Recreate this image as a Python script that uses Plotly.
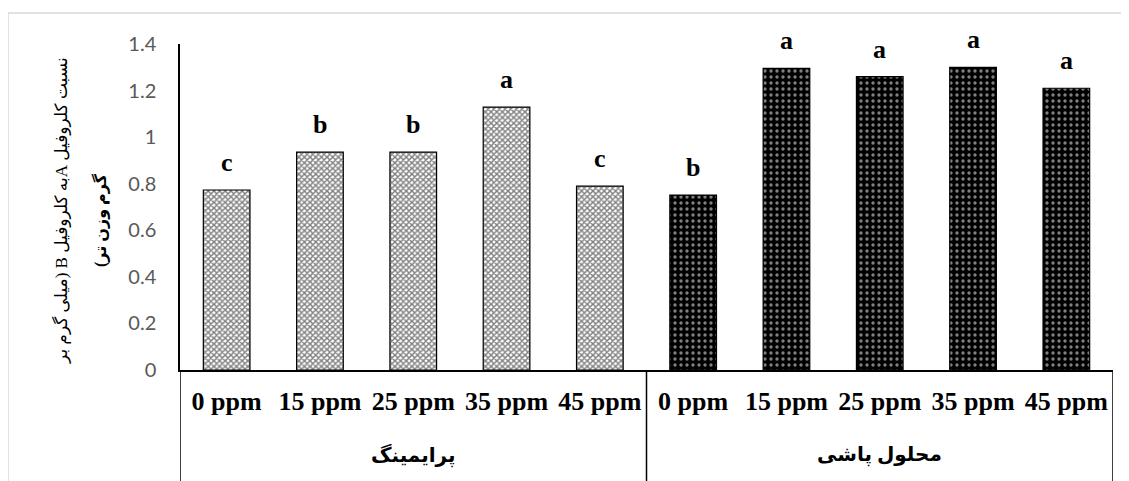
import plotly.graph_objects as go

group_names = ["پرایمینگ", "محلول پاشی"]
doses = ["0 ppm", "15 ppm", "25 ppm", "35 ppm", "45 ppm"]
priming_vals = [0.773, 0.936, 0.936, 1.129, 0.79]
spray_vals = [0.751, 1.295, 1.26, 1.30, 1.21]
priming_letters = ["c", "b", "b", "a", "c"]
spray_letters = ["b", "a", "a", "a", "a"]
y_ticks = [0, 0.2, 0.4, 0.6, 0.8, 1, 1.2, 1.4]
y_title_1 = "نسبت کلروفیل Aبه کلروفیل B (میلی گرم بر"
y_title_2 = "گرم وزن تر)"

# page has an 8px body margin; figure coordinates are page minus 8
OFF = 8
W, H = 1129 - OFF, 481 - OFF
L, T = 180 - OFF, 44 - OFF
R = W - (1113 - OFF)
B = H - (370 - OFF)
PW, PH = W - L - R, H - T - B


def px_x(page_x):
    return (page_x - OFF - L) / PW


def px_y(page_y):
    return (H - B - (page_y - OFF)) / PH


n = len(doses)
x_pri = list(range(n))
x_spr = list(range(n, 2 * n))

fig = go.Figure()
fig.add_trace(go.Bar(
    x=x_pri, y=priming_vals, width=0.5,
    marker=dict(color="white", line=dict(color="black", width=1.2),
                pattern=dict(shape="x", fgcolor="black", bgcolor="white",
                             size=4, solidity=0.6, fillmode="overlay")),
    showlegend=False,
))
fig.add_trace(go.Bar(
    x=x_spr, y=spray_vals, width=0.5,
    marker=dict(color="black", line=dict(color="black", width=1.2),
                pattern=dict(shape=".", fgcolor="white", bgcolor="black",
                             size=6, solidity=0.25, fillmode="overlay")),
    showlegend=False,
))

# significance letters above bars
for xs, vals, letters in [(x_pri, priming_vals, priming_letters),
                          (x_spr, spray_vals, spray_letters)]:
    for xi, v, t in zip(xs, vals, letters):
        fig.add_annotation(x=xi, y=v, text=t, showarrow=False,
                           yanchor="bottom", yshift=11,
                           font=dict(family="Liberation Serif", size=26,
                                     color="black", weight="bold"))

# group labels
for g, xs in zip(group_names, [x_pri, x_spr]):
    fig.add_annotation(x=sum(xs) / len(xs), y=px_y(455), yref="paper",
                       text="\u202B" + g + "\u202C", showarrow=False,
                       yanchor="middle",
                       font=dict(family="Liberation Serif, DejaVu Sans", size=20,
                                 color="black", weight="bold"))

# group dividers
for xv in [x_pri[0] - 0.5, x_spr[0] - 0.5, x_spr[-1] + 0.5]:
    fig.add_shape(type="line", xref="x", yref="paper", x0=xv, x1=xv,
                  y0=0, y1=px_y(490),
                  line=dict(color="black", width=1.5))

# y-axis title (two lines)
fig.add_annotation(xref="paper", yref="paper", x=px_x(61), y=px_y(210),
                   text="\u202B" + y_title_1 + "\u202C", textangle=-90,
                   showarrow=False, xanchor="center", yanchor="middle",
                   font=dict(family="Liberation Serif, DejaVu Sans", size=17, color="black"))
fig.add_annotation(xref="paper", yref="paper", x=px_x(100), y=px_y(220),
                   text="\u202B" + y_title_2 + "\u202C", textangle=-90,
                   showarrow=False, xanchor="center", yanchor="middle",
                   font=dict(family="Liberation Serif, DejaVu Sans", size=16,
                             color="black", weight="bold"))

fig.update_layout(
    width=W, height=H,
    margin=dict(l=L, r=R, t=T, b=B, autoexpand=False),
    paper_bgcolor="white", plot_bgcolor="white",
    barmode="overlay",
    yaxis=dict(
        range=[0, 1.4], tickvals=y_ticks,
        ticktext=[("%g" % v) for v in y_ticks],
        tickfont=dict(family="Lato, Liberation Sans", size=20, color="#595959"),
        showgrid=False, zeroline=False,
        showline=True, linecolor="black", linewidth=1.5,
        ticks="outside", ticklen=18, tickcolor="rgba(0,0,0,0)",
        automargin=False,
    ),
    xaxis=dict(
        range=[-0.5, 2 * n - 0.5],
        tickvals=x_pri + x_spr, ticktext=doses + doses,
        tickfont=dict(family="Liberation Serif", size=26, color="black", weight="bold"),
        showline=True, linecolor="black", linewidth=1.5,
        ticks="outside", ticklen=7, tickcolor="rgba(0,0,0,0)",
        showgrid=False, zeroline=False, automargin=False,
    ),
)

# light outer frame of the chart area
fig.add_shape(type="rect", xref="paper", yref="paper",
              x0=px_x(8), x1=px_x(1140),
              y0=px_y(500), y1=px_y(13),
              line=dict(color="#d9d9d9", width=1.5), fillcolor="rgba(0,0,0,0)", layer="below")

fig.write_html("out.html")
